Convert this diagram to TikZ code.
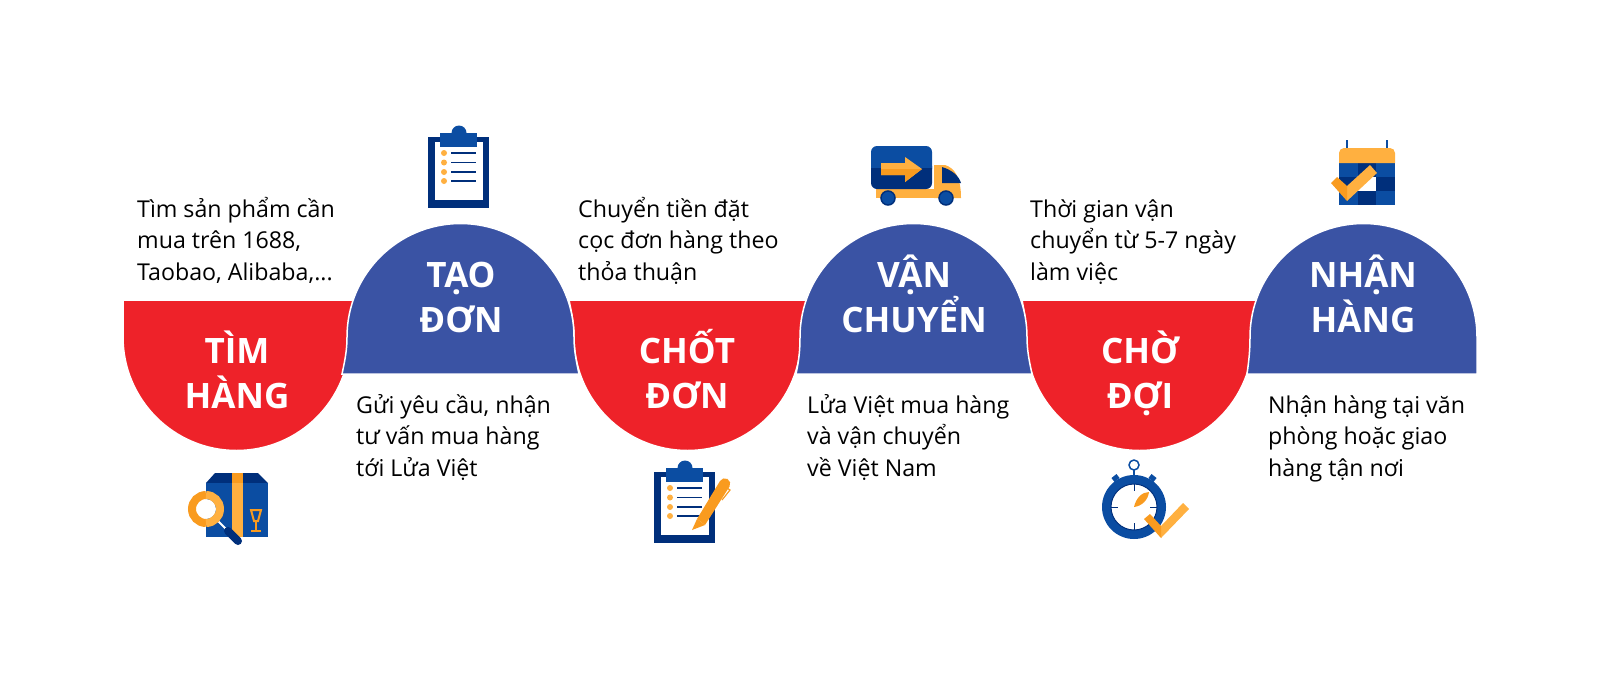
\documentclass[tikz,border=0pt]{standalone}
\usepackage{fontspec}
\setmainfont{Open Sans}
\usetikzlibrary{arrows.meta, positioning}
\definecolor{cupred}{RGB}{238,34,41}
\definecolor{domeblue}{RGB}{58,83,164}
\definecolor{boxblue}{RGB}{11,77,162}
\definecolor{navyblue}{RGB}{0,47,123}
\definecolor{lightorange}{RGB}{255,176,64}
\definecolor{deeporange}{RGB}{249,155,31}
\tikzset{
  cupshape/.style={fill=cupred, draw=white, line width=1.5pt},
  domeshape/.style={fill=domeblue, draw=white, line width=1.5pt},
  headtext/.style={text=white, inner sep=0pt, align=center, anchor=base,
    font=\fontsize{35}{45}\selectfont\bfseries},
  bodytext/.style={text=black, inner sep=0pt, align=left, anchor=base west,
    font=\fontsize{23.2}{31.5}\selectfont},
  clipboard/.pic={
    \fill[navyblue] (0,0) rectangle (61,71);
    \fill[white] (7,5) rectangle (55,63);
    \fill[boxblue] (12,-4) rectangle (49,10);
    \fill[boxblue] (31,-4) circle[radius=7.5];
    \foreach \rowy in {16,25.5,35,44}{
      \fill[lightorange] (16,\rowy) circle[radius=3];
      \draw[navyblue, line width=1.5pt] (23,\rowy) -- (48,\rowy);
    }
  }
}
\begin{document}
\begin{tikzpicture}[x=1pt,y=-1pt]
  \useasboundingbox (0,0) rectangle (1600,673);
  \fill[white] (0,0) rectangle (1600,673);
  % red cups
  \path[cupshape] (123,300) -- (354,300) .. controls (351,315) and (350,325) .. (350,337)
    arc[start angle=0, end angle=180, radius=113.5] -- cycle;
  \path[cupshape] (569,300) -- (807,300) .. controls (803,315) and (801,325) .. (801,337)
    arc[start angle=0, end angle=180, radius=113.5] .. controls (574,325) and (572,315) .. cycle;
  \path[cupshape] (1022,300) -- (1258,300) .. controls (1254,315) and (1253,325) .. (1253,337)
    arc[start angle=0, end angle=180, radius=113.5] .. controls (1026,325) and (1025,315) .. cycle;
  % blue domes
  \path[domeshape] (342,374) .. controls (345,360) and (347,350) .. (347,337)
    arc[start angle=180, end angle=360, radius=113.5] .. controls (574,350) and (576,360) .. (579,374) -- cycle;
  \path[domeshape] (796,374) .. controls (799,360) and (800,350) .. (800,337)
    arc[start angle=180, end angle=360, radius=113.5] .. controls (1027,350) and (1029,360) .. (1032,374) -- cycle;
  \path[domeshape] (1247,374) .. controls (1249,360) and (1250,350) .. (1250,337)
    arc[start angle=180, end angle=360, radius=113.5] -- (1477,374) -- cycle;
  % headings
  \node[headtext] (timHang) at (237,408) {TÌM\\HÀNG};
  \node[headtext] (taoDon) at (461,332) {TẠO\\ĐƠN};
  \node[headtext] (chotDon) at (687,408) {CHỐT\\ĐƠN};
  \node[headtext] (vanChuyen) at (914,332) {VẬN\\CHUYỂN};
  \node[headtext] (choDoi) at (1140,408) {CHỜ\\ĐỢI};
  \node[headtext] (nhanHang) at (1363,332) {NHẬN\\HÀNG};
  % descriptions
  \node[bodytext] (timText) at (137,280) {Tìm sản phẩm cần\\mua trên 1688,\\Taobao, Alibaba,...};
  \node[bodytext] (taoText) at (356,476) {Gửi yêu cầu, nhận\\tư vấn mua hàng\\tới Lửa Việt};
  \node[bodytext] (chotText) at (578,280) {Chuyển tiền đặt\\cọc đơn hàng theo\\thỏa thuận};
  \node[bodytext] (vanText) at (807,476) {Lửa Việt mua hàng\\và vận chuyển\\về Việt Nam};
  \node[bodytext] (choText) at (1030,280) {Thời gian vận\\chuyển từ 5-7 ngày\\làm việc};
  \node[bodytext] (nhanText) at (1268,476) {Nhận hàng tại văn\\phòng hoặc giao\\hàng tận nơi};
  % box and magnifier
  \fill[navyblue] (215,473) -- (258,473) -- (268,483) -- (206,483) -- cycle;
  \fill[boxblue] (206,483) rectangle (268,537);
  \fill[deeporange] (232,473) rectangle (243,483);
  \fill[lightorange] (232,483) rectangle (243,537);
  \draw[deeporange, line width=2pt] (251,510) -- (261,510) -- (258,521) -- (254,521) -- cycle;
  \draw[deeporange, line width=2pt] (256,521) -- (256,531) (251,531) -- (261,531);
  \draw[white, line width=2pt] (218,521) -- (226,529);
  \draw[navyblue, line width=8pt, line cap=round] (228,531) -- (238,541);
  \fill[white] (206,509) circle[radius=10];
  \draw[deeporange, line width=8pt] (206,495) arc[start angle=270, end angle=90, radius=14];
  \draw[lightorange, line width=8pt] (206,495) arc[start angle=270, end angle=450, radius=14];
  % clipboards
  \pic at (428,137) {clipboard};
  \pic at (654,472) {clipboard};
  \fill[deeporange] (692,530) -- (697,519) -- (705,525) -- cycle;
  \fill[deeporange] (697,519) -- (720,481) arc[start angle=210, end angle=390, radius=5.5] -- (705,525) -- cycle;
  \draw[deeporange, line width=1.2pt] (727,488) -- (730,490) -- (722,500);
  % truck
  \fill[lightorange] (876,189) rectangle (940,198);
  \fill[lightorange] (934,165) -- (945,165) .. controls (955,168) and (961,178) .. (961,198) -- (934,198) -- cycle;
  \fill[navyblue] (942,167) .. controls (952,170) and (959,176) .. (961,183) -- (942,183) -- cycle;
  \fill[boxblue, rounded corners=6pt] (871,146) rectangle (932,175);
  \fill[navyblue, rounded corners=6pt] (871,160) rectangle (932,189);
  \fill[boxblue] (871,155) rectangle (932,168);
  \fill[lightorange] (881,163) -- (905,163) -- (905,157) -- (922,169) -- (905,182) -- (905,175) -- (881,175) -- cycle;
  \fill[deeporange] (881,169) -- (922,169) -- (905,182) -- (905,175) -- (881,175) -- cycle;
  \fill[boxblue, draw=navyblue, line width=1.5pt] (888,198) circle[radius=7];
  \fill[boxblue, draw=navyblue, line width=1.5pt] (946,198) circle[radius=7];
  % stopwatch
  \draw[boxblue, line width=1.5pt] (1134,465) circle[radius=5];
  \draw[boxblue, line width=2pt] (1134,470) -- (1134,476);
  \draw[boxblue, line width=5pt] (1113,480) -- (1118,476) (1150,476) -- (1155,480);
  \fill[boxblue] (1134,507) circle[radius=32];
  \fill[white, draw=navyblue, line width=1pt] (1134,507) circle[radius=23];
  \draw[navyblue, line width=1pt] (1134,484) -- (1134,491) (1134,523) -- (1134,530)
    (1111,507) -- (1118,507) (1150,507) -- (1157,507);
  \fill[deeporange] (1134,507) .. controls (1136,498) and (1142,492) .. (1149,492) .. controls (1148,500) and (1142,506) .. cycle;
  \fill[lightorange] (1161,526) -- (1183,503) -- (1189,509) -- (1161,538) -- cycle;
  \fill[deeporange] (1144,519) -- (1150,514) -- (1161,526) -- (1161,538) -- cycle;
  % calendar
  \draw[boxblue, line width=2.5pt] (1347,140) -- (1347,150) (1387,140) -- (1387,150);
  \fill[boxblue] (1339,160) rectangle (1395,205);
  \fill[navyblue] (1358,163) rectangle (1376,177);
  \fill[navyblue] (1376,177) rectangle (1395,191);
  \fill[navyblue] (1339,177) rectangle (1358,191);
  \fill[navyblue] (1358,191) rectangle (1376,205);
  \fill[white] (1358,177) rectangle (1376,191);
  \fill[lightorange] (1339,163) -- (1339,153) arc[start angle=180, end angle=270, radius=5]
    -- (1390,148) arc[start angle=270, end angle=360, radius=5] -- (1395,163) -- cycle;
  \fill[lightorange] (1347,186) -- (1370,165) -- (1377,173) -- (1347,201) -- cycle;
  \fill[deeporange] (1331,183) -- (1337,177) -- (1347,186) -- (1347,201) -- cycle;
\end{tikzpicture}
\end{document}
